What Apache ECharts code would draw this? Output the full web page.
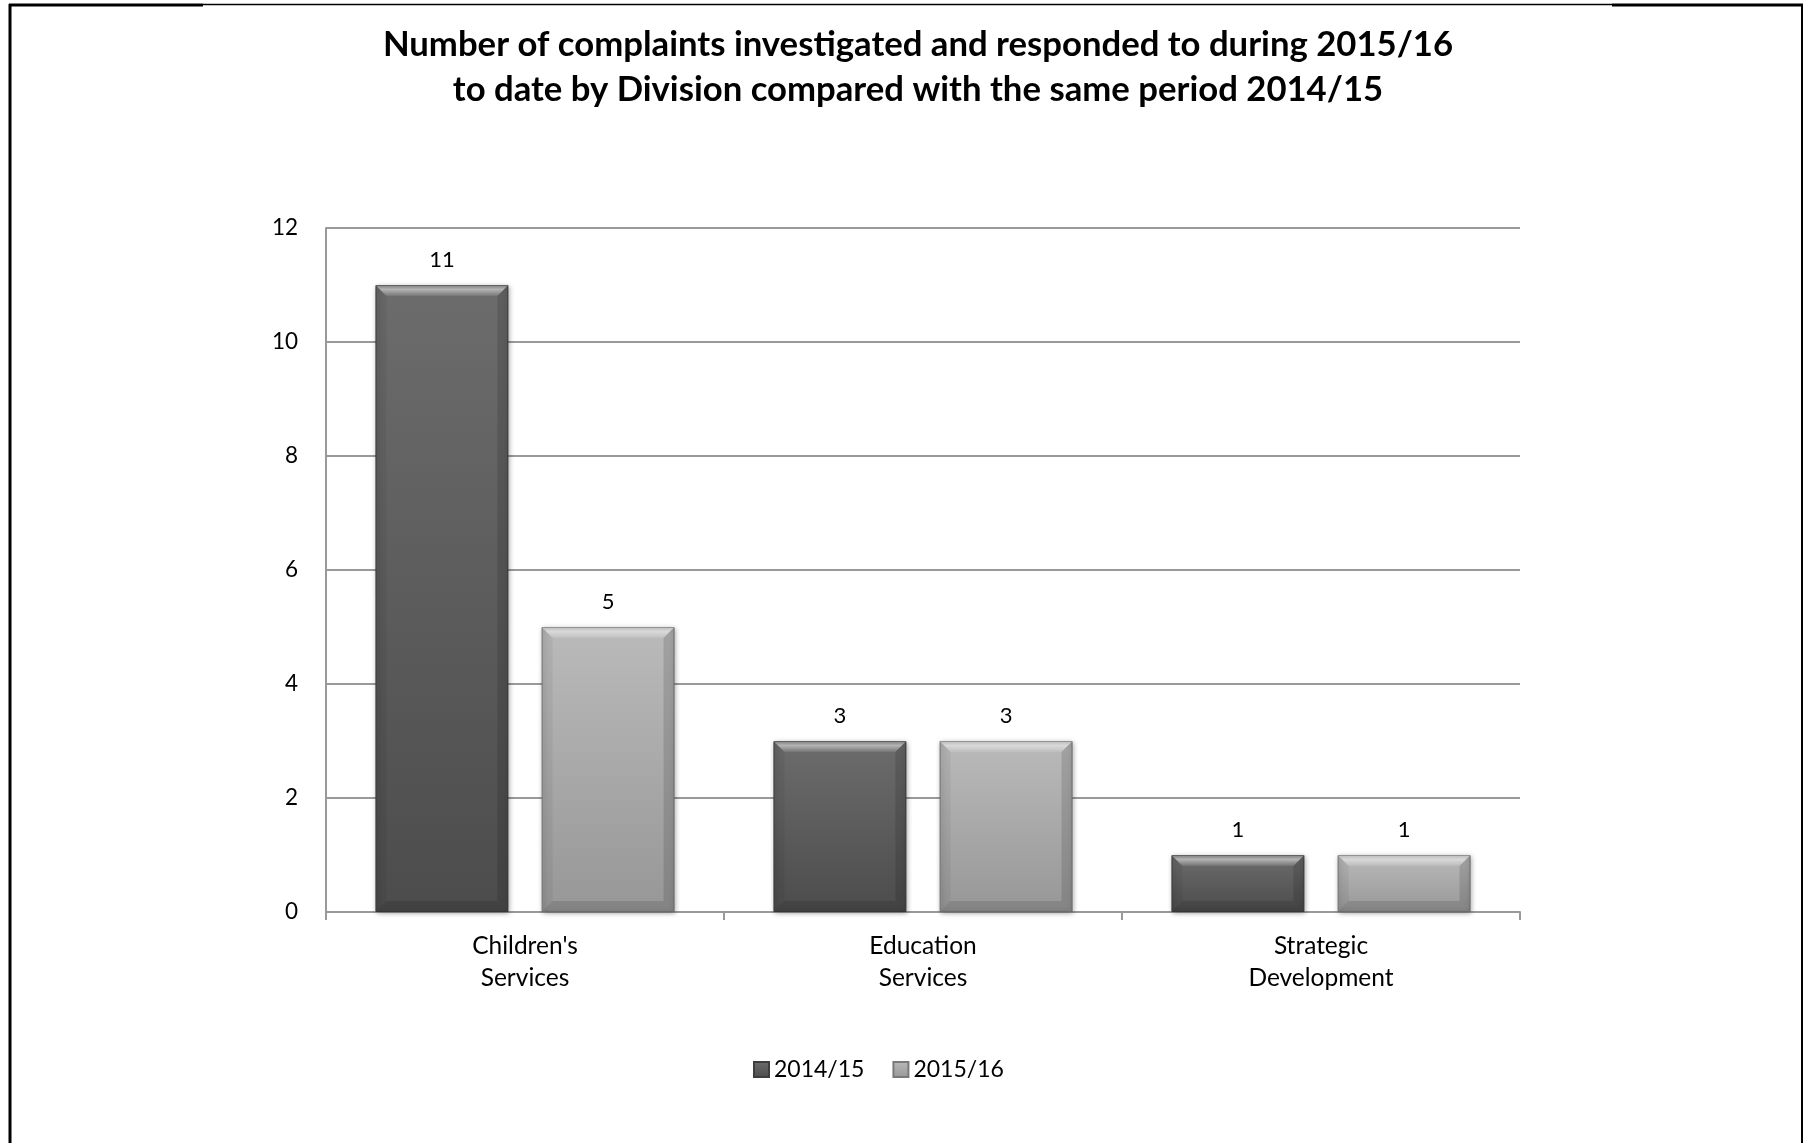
<!DOCTYPE html>
<html>
<head>
<meta charset="utf-8">
<script src="https://cdn.jsdelivr.net/npm/echarts@6/dist/echarts.min.js"></script>
<style>
html,body{margin:0;padding:0;background:#fff;}
#chart{width:1805px;height:1143px;}
</style>
</head>
<body>
<div id="chart"></div>
<script>
// ---- data ----
var categories = ["Children's\nServices", "Education\nServices", "Strategic\nDevelopment"];
var seriesNames = ["2014/15", "2015/16"];
var values2014 = [11, 3, 1];
var values2015 = [5, 3, 1];
var yTicks = { min: 0, max: 12, interval: 2 };
var titleText = "Number of complaints investigated and responded to during 2015/16\nto date by Division compared with the same period 2014/15";

var FONT = "Lato, 'Open Sans', sans-serif";
var BAR_W = 0.334, BAR_GAP = 0.25;

function grad(top, bottom) {
  return new echarts.graphic.LinearGradient(0, 0, 0, 1, [
    { offset: 0, color: top }, { offset: 1, color: bottom }
  ]);
}

function bevelSeries(vals, side, name) {
  return {
    type: 'custom',
    name: name,
    silent: true,
    z: 5,
    data: vals.map(function (v, i) { return [i, v]; }),
    renderItem: function (params, api) {
      var cat = api.value(0), v = api.value(1);
      var base = api.coord([cat, 0]);
      var top = api.coord([cat, v]);
      var band = api.size([1, 0])[0];
      var bw = band * BAR_W;
      var off = (bw + bw * BAR_GAP) / 2 * side;
      var cx = base[0] + off;
      var x0 = cx - bw / 2, x1 = cx + bw / 2, y0 = top[1], y1 = base[1];
      var b = Math.min(11, (y1 - y0) / 2);
      return {
        type: 'group',
        children: [
          { type: 'polygon', shape: { points: [[x0, y0], [x1, y0], [x1 - b, y0 + b], [x0 + b, y0 + b]] },
            style: { fill: new echarts.graphic.LinearGradient(0, 0, 0, 1, [
              { offset: 0, color: 'rgba(255,255,255,0.15)' },
              { offset: 0.4, color: 'rgba(255,255,255,0.5)' },
              { offset: 1, color: 'rgba(255,255,255,0.08)' }]) } },
          { type: 'polygon', shape: { points: [[x0, y0], [x0 + b, y0 + b], [x0 + b, y1 - b], [x0, y1]] },
            style: { fill: 'rgba(0,0,0,0.05)' } },
          { type: 'polygon', shape: { points: [[x1, y0], [x1 - b, y0 + b], [x1 - b, y1 - b], [x1, y1]] },
            style: { fill: 'rgba(0,0,0,0.13)' } },
          { type: 'polygon', shape: { points: [[x0, y1], [x0 + b, y1 - b], [x1 - b, y1 - b], [x1, y1]] },
            style: { fill: 'rgba(0,0,0,0.12)' } }
        ]
      };
    }
  };
}

var chart = echarts.init(document.getElementById('chart'), null, { renderer: 'canvas' });
var labelStyle = { show: true, position: 'top', distance: 14, color: '#000', fontSize: 22, fontFamily: FONT };

chart.setOption({
  animation: false,
  backgroundColor: '#fff',
  title: {
    text: titleText,
    left: 913, top: 17, textAlign: 'center',
    textStyle: { fontFamily: FONT, fontWeight: 'bold', fontSize: 34.7, lineHeight: 45, color: '#000' }
  },
  legend: {
    data: seriesNames,
    left: 748, top: 1053,
    itemWidth: 15, itemHeight: 15, itemGap: 28,
    icon: 'rect',
    textStyle: { fontFamily: FONT, fontSize: 23, color: '#000' }
  },
  grid: { left: 326, right: 285, top: 228, bottom: 231 },
  xAxis: {
    type: 'category',
    data: categories,
    axisLine: { lineStyle: { color: '#999', width: 2 } },
    axisTick: { show: true, length: 8, lineStyle: { color: '#999', width: 2 } },
    axisLabel: { color: '#000', fontSize: 24.5, fontFamily: FONT, lineHeight: 32, margin: 18 }
  },
  yAxis: {
    type: 'value',
    min: yTicks.min, max: yTicks.max, interval: yTicks.interval,
    axisLine: { show: true, lineStyle: { color: '#999', width: 2 } },
    axisTick: { show: false },
    splitLine: { lineStyle: { color: '#999', width: 2 } },
    axisLabel: { color: '#000', fontSize: 22.5, fontFamily: FONT, margin: 28 }
  },
  series: [
    {
      name: seriesNames[0], type: 'bar', data: values2014,
      barWidth: (BAR_W * 100) + '%', barGap: (BAR_GAP * 100) + '%',
      itemStyle: { color: grad('#6c6c6c', '#4c4c4c'), borderColor: '#3e3e3e', borderWidth: 1,
                   shadowBlur: 5, shadowColor: 'rgba(0,0,0,0.35)', shadowOffsetX: 1, shadowOffsetY: 1 },
      label: labelStyle
    },
    {
      name: seriesNames[1], type: 'bar', data: values2015,
      barWidth: (BAR_W * 100) + '%', barGap: (BAR_GAP * 100) + '%',
      itemStyle: { color: grad('#bababa', '#979797'), borderColor: '#7a7a7a', borderWidth: 1,
                   shadowBlur: 5, shadowColor: 'rgba(0,0,0,0.35)', shadowOffsetX: 1, shadowOffsetY: 1 },
      label: labelStyle
    },
    bevelSeries(values2014, -1, 'bevelA'),
    bevelSeries(values2015, 1, 'bevelB')
  ],
  graphic: [
    { type: 'line', shape: { x1: 10, y1: 4, x2: 10, y2: 1143 }, style: { stroke: '#000', lineWidth: 3 } },
    { type: 'line', shape: { x1: 9, y1: 5, x2: 203, y2: 5 }, style: { stroke: '#000', lineWidth: 3 } },
    { type: 'line', shape: { x1: 203, y1: 4.5, x2: 1612, y2: 4.5 }, style: { stroke: '#000', lineWidth: 1.5 } },
    { type: 'line', shape: { x1: 1612, y1: 5, x2: 1803, y2: 5 }, style: { stroke: '#000', lineWidth: 3 } },
    { type: 'line', shape: { x1: 1802, y1: 4, x2: 1802, y2: 1143 }, style: { stroke: '#000', lineWidth: 2 } }
  ]
});
</script>
</body>
</html>
